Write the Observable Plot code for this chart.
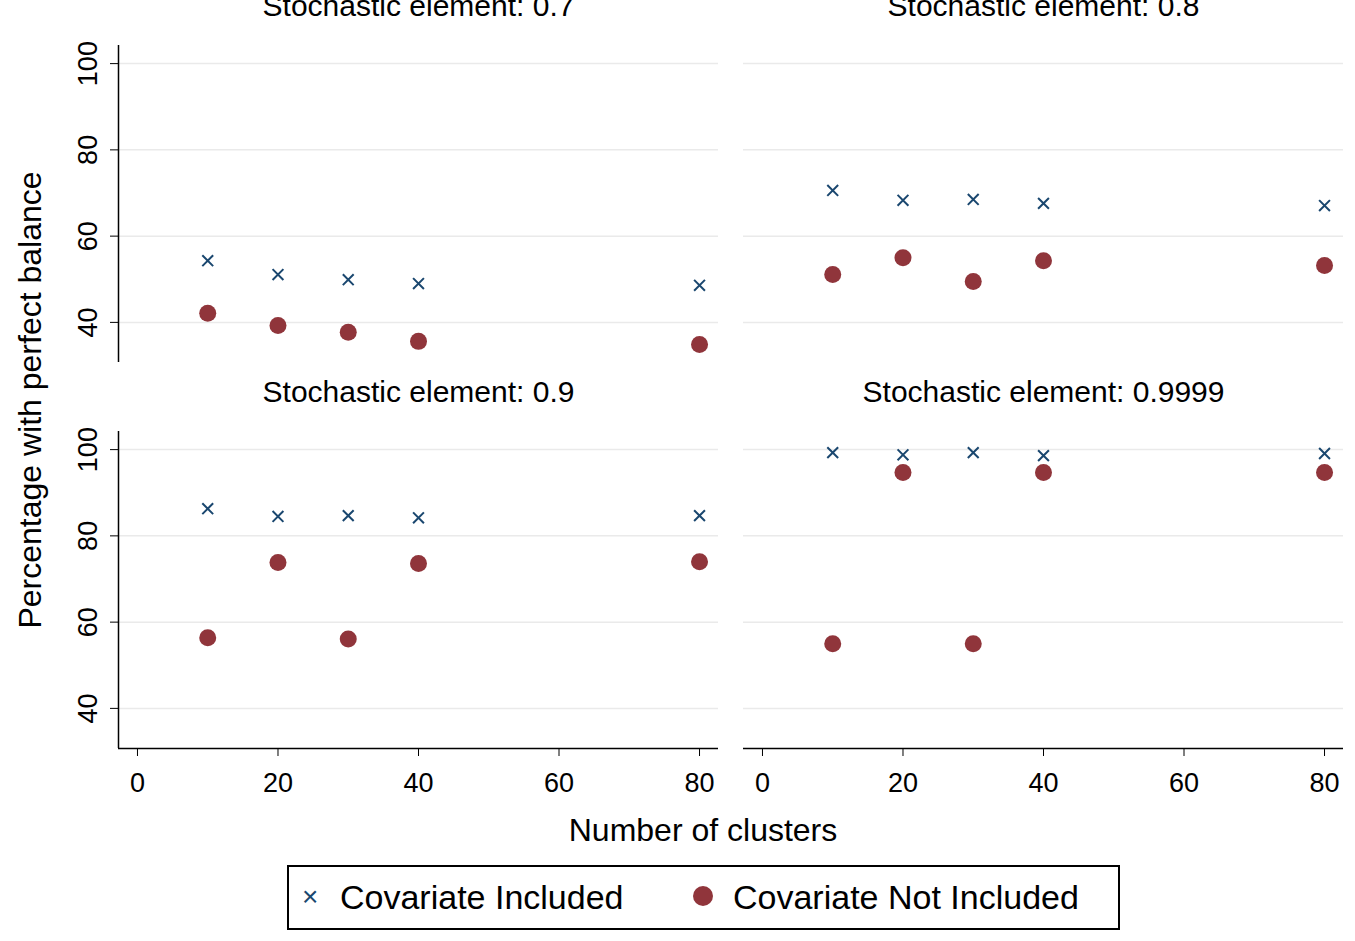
<!DOCTYPE html>
<html><head><meta charset="utf-8">
<script src="https://cdn.jsdelivr.net/npm/d3@7"></script>
<script src="https://cdn.jsdelivr.net/npm/@observablehq/plot@0.6"></script>
<style>
body{margin:0;background:#fff;font-family:"Liberation Sans",Arial,sans-serif;}
#wrap{position:relative;width:1355px;height:941px;}
#legend{position:absolute;left:287px;top:865px;width:829px;height:61px;border:2px solid #000;font-size:34px;}
#legend span{position:absolute;top:11px;}
</style></head><body><div id="wrap"><div id="legend">
<span style="left:13px;color:#1a476f;font-size:28px;top:14px">×</span>
<span style="left:51px">Covariate Included</span>
<span style="left:404px;top:19px;width:20px;height:20px;border-radius:50%;background:#90353b"></span>
<span style="left:444px">Covariate Not Included</span>
</div></div>
<script>
const clusters = [10, 20, 30, 40, 80];
const panelTitles = ["Stochastic element: 0.7","Stochastic element: 0.8","Stochastic element: 0.9","Stochastic element: 0.9999"];
const panelCol = ["L","R","L","R"];
const panelRow = ["T","T","B","B"];
const included = [
  [54.3, 51.1, 49.9, 49.0, 48.6],
  [70.6, 68.3, 68.5, 67.6, 67.1],
  [86.3, 84.5, 84.7, 84.2, 84.7],
  [99.3, 98.8, 99.3, 98.6, 99.1]
];
const notIncluded = [
  [42.1, 39.3, 37.7, 35.6, 34.9],
  [51.1, 55.0, 49.5, 54.3, 53.2],
  [56.4, 73.8, 56.1, 73.6, 74.0],
  [55.0, 94.7, 55.0, 94.7, 94.7]
];
const yTicks = [40, 60, 80, 100];
const xTicks = [0, 20, 40, 60, 80];

const inc = [], not = [], titles = [];
panelTitles.forEach((t, p) => {
  titles.push({t, c: panelCol[p], r: panelRow[p]});
  clusters.forEach((x, i) => {
    inc.push({x, y: included[p][i], c: panelCol[p], r: panelRow[p]});
    not.push({x, y: notIncluded[p][i], c: panelCol[p], r: panelRow[p]});
  });
});
const X0 = -2.7, X1 = 82.7, Y0 = 30.7, Y1 = 104.2;
const chart = Plot.plot({
  width: 1355, height: 850,
  marginLeft: 118, marginRight: 12, marginTop: 45, marginBottom: 102,
  x: {domain: [X0, X1]},
  y: {domain: [Y0, Y1]},
  fx: {domain: ["L","R"], paddingInner: 0.04, paddingOuter: 0, axis: null},
  fy: {domain: ["T","B"], paddingInner: 0.179, paddingOuter: 0, axis: null},
  style: {fontFamily: "Liberation Sans, Arial, sans-serif", color: "#000"},
  marks: [
    Plot.gridY(yTicks, {stroke: "#eaeaea", strokeOpacity: 1, strokeWidth: 1.5}),
    Plot.ruleX([{c:"L",r:"T"},{c:"L",r:"B"}], {x: () => X0, fx: "c", fy: "r", stroke: "#000", strokeWidth: 1.5}),
    Plot.ruleY([{c:"L",r:"B"},{c:"R",r:"B"}], {y: () => Y0, fx: "c", fy: "r", stroke: "#000", strokeWidth: 1.5}),
    Plot.axisY({ticks: yTicks, tickRotate: -90, fontSize: 27, tickSize: 8, tickPadding: 14, label: null, facetAnchor: "left"}),
    Plot.axisX({ticks: xTicks, fontSize: 27, tickSize: 8, tickPadding: 16, label: null, facetAnchor: "bottom"}),
    Plot.dot(not, {x: "x", y: "y", fx: "c", fy: "r", fill: "#90353b", r: 8.5}),
    Plot.dot(inc, {x: "x", y: "y", fx: "c", fy: "r", symbol: "times", stroke: "#1a476f", strokeWidth: 2, r: 5}),
    Plot.text(titles, {text: "t", fx: "c", fy: "r", frameAnchor: "top", dy: -24, fontSize: 30, fill: "#000"})
  ]
});
const svg = d3.select(chart);
svg.append("text").attr("transform", "translate(33,400) rotate(-90)").attr("text-anchor", "middle")
  .attr("dominant-baseline", "middle").attr("font-size", 32).text("Percentage with perfect balance");
svg.append("text").attr("x", 703).attr("y", 833).attr("text-anchor", "middle")
  .attr("dominant-baseline", "middle").attr("font-size", 32).text("Number of clusters");
svg.selectAll("text").filter(function(){return this.textContent.startsWith("Stochastic");}).attr("dy", "-0.9em");
document.getElementById("wrap").prepend(chart);
chart.style.position = "absolute"; chart.style.left = "0"; chart.style.top = "0";
</script></body></html>
